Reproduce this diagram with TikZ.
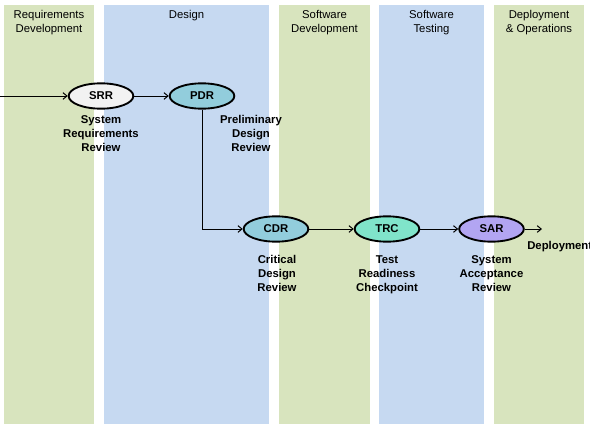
\documentclass[tikz,border=0pt]{standalone}
\usepackage{fontspec}
\setmainfont{Liberation Sans}
\usetikzlibrary{arrows.meta,shapes.geometric}
\definecolor{phasegreen}{RGB}{216,228,190}
\definecolor{phaseblue}{RGB}{198,217,241}
\definecolor{srrgray}{RGB}{242,242,242}
\definecolor{pdrteal}{RGB}{146,205,220}
\definecolor{trcaqua}{RGB}{128,228,202}
\definecolor{sarviolet}{RGB}{178,165,242}

\begin{document}
\begin{tikzpicture}[x=0.75pt, y=-0.75pt, >={Straight Barb[length=3pt,width=5pt]},
    review/.style={ellipse, draw, line width=1.4pt, minimum width=48.5pt,
      minimum height=19pt, inner sep=0pt, font=\fontsize{8.5}{10.5}\selectfont\bfseries},
    caption/.style={align=center, anchor=north, inner sep=0pt,
      font=\fontsize{8.5}{10.5}\selectfont\bfseries},
    phase/.style={align=center, anchor=north, inner sep=0pt,
      font=\fontsize{8.5}{10.5}\selectfont}]
    \useasboundingbox (0,0) rectangle (590,429);
    % phase columns
    \fill[phasegreen] (4,5) rectangle (94,424);
    \fill[phaseblue] (104,5) rectangle (269,424);
    \fill[phasegreen] (279,5) rectangle (370,424);
    \fill[phaseblue] (379,5) rectangle (484,424);
    \fill[phasegreen] (494,5) rectangle (584,424);
    \node[phase] (reqtitle) at (49,10) {Requirements\\Development};
    \node[phase] (destitle) at (186.5,10) {Design};
    \node[phase] (swdtitle) at (324.5,10) {Software\\Development};
    \node[phase] (swttitle) at (431.5,10) {Software\\Testing};
    \node[phase] (deptitle) at (539,10) {Deployment\\\& Operations};
    % reviews
    \node[review, fill=srrgray] (srr) at (101,96) {SRR};
    \node[review, fill=pdrteal] (pdr) at (202,96) {PDR};
    \node[review, fill=pdrteal] (cdr) at (276,229) {CDR};
    \node[review, fill=trcaqua] (trc) at (387,229) {TRC};
    \node[review, fill=sarviolet] (sar) at (491.5,229) {SAR};
    \node[caption] (srrtext) at (101,115) {System\\Requirements\\Review};
    \node[caption] (pdrtext) at (251,115) {Preliminary\\Design\\Review};
    \node[caption] (cdrtext) at (277,255) {Critical\\Design\\Review};
    \node[caption] (trctext) at (387,255) {Test\\Readiness\\Checkpoint};
    \node[caption] (sartext) at (491.5,255) {System\\Acceptance\\Review};
    \node[caption, anchor=north west] (deploytext) at (527,241) {Deployment};
    % flow
    \coordinate (start) at (0,96);
    \coordinate (finish) at (542,229);
    \draw[->, line width=0.75pt] (start) -- (srr);
    \draw[->, line width=0.75pt] (srr) -- (pdr);
    \draw[->, line width=0.75pt] (pdr) |- (cdr);
    \draw[->, line width=0.75pt] (cdr) -- (trc);
    \draw[->, line width=0.75pt] (trc) -- (sar);
    \draw[->, line width=0.75pt] (sar) -- (finish);
  \end{tikzpicture}
\end{document}
